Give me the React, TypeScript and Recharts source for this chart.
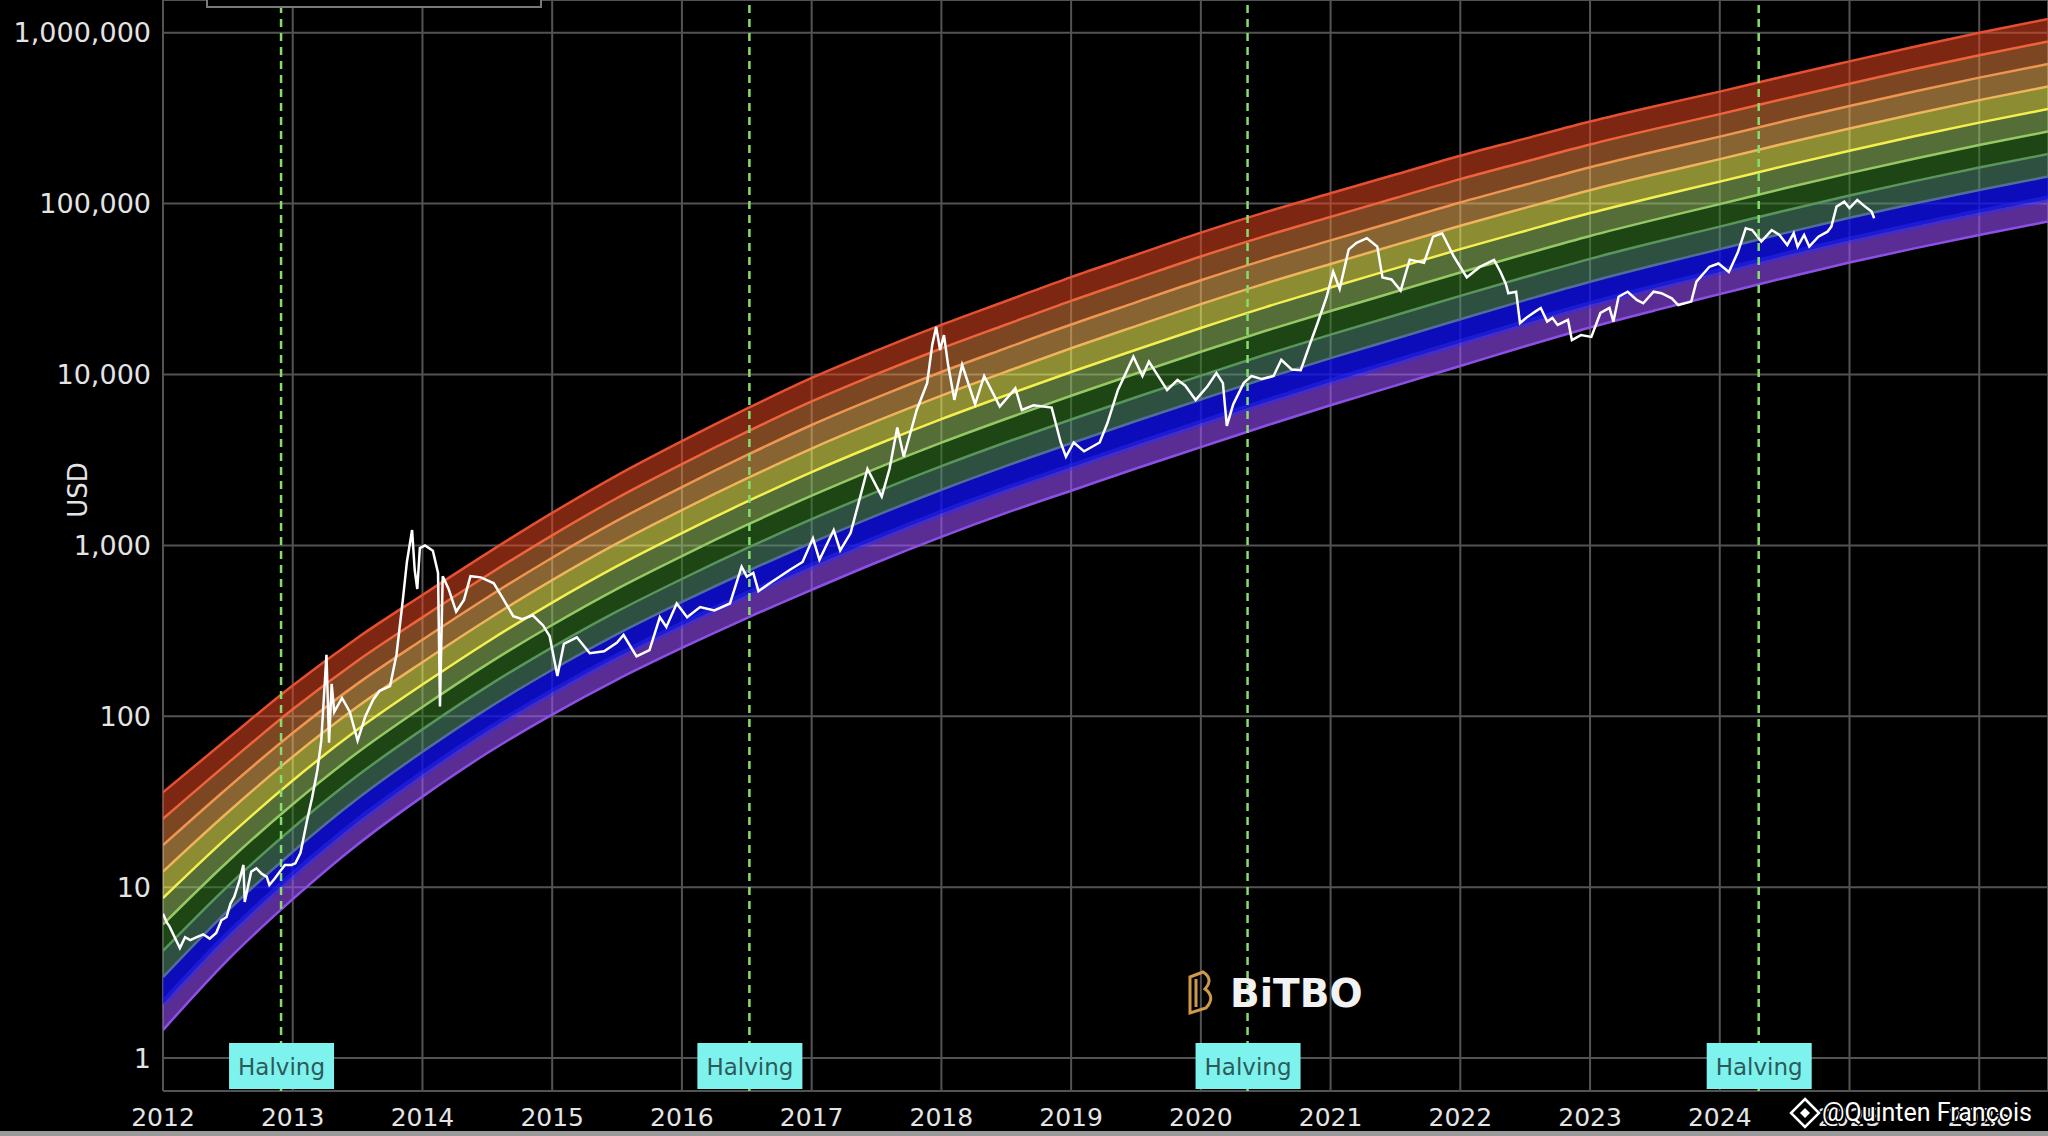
import React from "react";
import {
  ComposedChart,
  Area,
  Line,
  XAxis,
  YAxis,
  CartesianGrid,
  ReferenceLine,
  Label,
} from "recharts";

// axis ticks
const yearTicks = [
  2012, 2013, 2014, 2015, 2016, 2017, 2018, 2019, 2020, 2021, 2022, 2023, 2024, 2025, 2026,
];
const usdTicks = [1, 10, 100, 1000, 10000, 100000, 1000000];

// bitcoin halving dates (decimal years)
const halvingDates = [2012.91, 2016.52, 2020.36, 2024.3];

// rainbow envelope (log10 of USD)
const rainbowYears = [
  2012, 2012.5, 2013, 2013.5, 2014, 2014.5, 2015, 2015.5, 2016, 2016.5, 2017, 2017.5, 2018,
  2018.5, 2019, 2019.5, 2020, 2020.5, 2021, 2021.5, 2022, 2022.5, 2023, 2023.5, 2024, 2024.5,
  2025, 2025.5, 2026, 2026.53,
];
const rainbowBottomLog = [
  0.164, 0.575, 0.93, 1.25, 1.53, 1.785, 2.01, 2.215, 2.4, 2.575, 2.74, 2.9, 3.05, 3.19, 3.32,
  3.45, 3.575, 3.7, 3.82, 3.935, 4.05, 4.165, 4.275, 4.375, 4.47, 4.565, 4.655, 4.738, 4.816,
  4.895,
];
const rainbowTopLog = [
  1.555, 1.87, 2.18, 2.46, 2.71, 2.955, 3.19, 3.41, 3.61, 3.8, 3.98, 4.14, 4.29, 4.43, 4.57,
  4.7, 4.83, 4.95, 5.06, 5.17, 5.28, 5.38, 5.48, 5.57, 5.655, 5.745, 5.832, 5.918, 6.0, 6.08,
];

// BTC price [decimal year, USD]
const btcPrice: [number, number][] = [
  [2012.0, 7.0], [2012.03, 6.2], [2012.05, 5.9], [2012.09, 5.1], [2012.13, 4.4], [2012.17, 5.1],
  [2012.21, 4.9], [2012.26, 5.1], [2012.31, 5.3], [2012.36, 5.0], [2012.41, 5.4], [2012.45, 6.4],
  [2012.49, 6.7], [2012.52, 8.0], [2012.55, 8.8], [2012.59, 11], [2012.62, 13.5], [2012.63, 8.2],
  [2012.66, 10.5], [2012.68, 12.3], [2012.72, 12.9], [2012.76, 12.0], [2012.8, 11.5],
  [2012.82, 10.3], [2012.86, 11.2], [2012.9, 12.3], [2012.94, 13.5], [2012.99, 13.5],
  [2013.02, 13.8], [2013.06, 15.9], [2013.11, 24.5], [2013.15, 33.6], [2013.19, 48.5],
  [2013.22, 72], [2013.26, 229], [2013.28, 70], [2013.3, 155], [2013.32, 106], [2013.38, 128],
  [2013.44, 106], [2013.5, 72], [2013.56, 100], [2013.62, 125], [2013.67, 141], [2013.75, 150],
  [2013.8, 230], [2013.85, 490], [2013.88, 800], [2013.92, 1230], [2013.94, 720], [2013.96, 556],
  [2013.98, 965], [2014.02, 1000], [2014.08, 930], [2014.12, 690], [2014.135, 114],
  [2014.156, 660], [2014.2, 560], [2014.26, 410], [2014.32, 480], [2014.37, 660], [2014.45, 650],
  [2014.55, 600], [2014.62, 490], [2014.7, 385], [2014.77, 370], [2014.85, 390], [2014.93, 340],
  [2014.98, 295], [2015.04, 172], [2015.09, 265], [2015.19, 290], [2015.29, 234], [2015.4, 240],
  [2015.5, 270], [2015.55, 299], [2015.65, 224], [2015.75, 244], [2015.83, 380], [2015.88, 333],
  [2015.96, 457], [2016.04, 380], [2016.14, 436], [2016.25, 416], [2016.37, 457], [2016.46, 750],
  [2016.5, 656], [2016.55, 690], [2016.59, 540], [2016.68, 603], [2016.83, 718], [2016.93, 800],
  [2017.01, 1100], [2017.06, 823], [2017.17, 1230], [2017.22, 935], [2017.3, 1180],
  [2017.36, 1750], [2017.43, 2800], [2017.54, 1930], [2017.6, 2800], [2017.66, 4900],
  [2017.71, 3300], [2017.81, 6200], [2017.89, 8900], [2017.93, 15000], [2017.96, 19000],
  [2017.99, 13900], [2018.02, 17000], [2018.05, 11600], [2018.1, 7100], [2018.16, 11400],
  [2018.26, 6700], [2018.33, 9800], [2018.45, 6500], [2018.57, 8300], [2018.62, 6200],
  [2018.71, 6600], [2018.85, 6400], [2018.92, 4000], [2018.96, 3300], [2019.02, 4000],
  [2019.1, 3550], [2019.22, 4000], [2019.28, 5200], [2019.36, 8100], [2019.48, 12700],
  [2019.55, 9800], [2019.6, 11900], [2019.74, 8100], [2019.82, 9300], [2019.88, 8600],
  [2019.96, 7100], [2020.05, 8500], [2020.12, 10200], [2020.17, 8900], [2020.2, 5000],
  [2020.25, 6700], [2020.33, 8900], [2020.39, 9800], [2020.47, 9400], [2020.56, 9800],
  [2020.62, 12200], [2020.7, 10700], [2020.77, 10600], [2020.84, 15000], [2020.9, 20000],
  [2020.97, 28500], [2021.02, 40000], [2021.07, 31700], [2021.14, 54000], [2021.2, 59000],
  [2021.28, 62700], [2021.36, 56000], [2021.4, 37000], [2021.47, 36000], [2021.54, 31000],
  [2021.61, 47000], [2021.72, 45000], [2021.79, 64000], [2021.86, 67000], [2021.95, 49000],
  [2022.05, 37000], [2022.15, 42600], [2022.26, 46800], [2022.31, 39800], [2022.35, 34000],
  [2022.37, 29900], [2022.43, 30500], [2022.46, 20000], [2022.52, 21800], [2022.58, 23400],
  [2022.62, 24500], [2022.67, 20400], [2022.71, 21400], [2022.75, 19500], [2022.83, 20900],
  [2022.86, 15900], [2022.93, 17000], [2023.01, 16600], [2023.08, 22900], [2023.15, 24500],
  [2023.18, 20400], [2023.22, 28500], [2023.29, 30500], [2023.36, 27300], [2023.41, 26100],
  [2023.49, 30500], [2023.55, 29900], [2023.63, 27900], [2023.68, 25500], [2023.78, 26700],
  [2023.82, 34900], [2023.92, 42700], [2023.99, 44600], [2024.07, 39800], [2024.14, 52000],
  [2024.2, 71600], [2024.25, 70000], [2024.32, 59900], [2024.4, 70000], [2024.46, 65500],
  [2024.52, 57300], [2024.57, 67000], [2024.6, 56000], [2024.65, 65500], [2024.69, 56000],
  [2024.76, 64000], [2024.83, 68500], [2024.86, 73300], [2024.9, 96000], [2024.96, 102500],
  [2025.0, 94000], [2025.06, 105000], [2025.12, 96000], [2025.17, 89800], [2025.19, 82000],
];

// band fills, bottom (fire sale) to top (maximum bubble)
const bandFills = [
  "#9b4eff", "#1010f0", "#529176", "#377f24", "#9bc864", "#ffff5b", "#f5b65b", "#e37f40", "#e34521",
];
const bandOpacity = [0.58, 0.78, 0.55, 0.55, 0.55, 0.55, 0.55, 0.55, 0.55];
// edge lines, bottom to top
const edgeColors = [
  "#8c50e6", "#2c2cff", "#506e96", "#5a965a", "#96c864", "#f5f050", "#f0b45a", "#f09650", "#f0643c",
  "#e65032",
];
const edgeWidths = [2.5, 7, 2.5, 2.5, 2.5, 2.5, 2.5, 2.5, 2.5, 2.5];
const edgeOpacity = [1, 0.45, 1, 1, 1, 1, 1, 1, 1, 1];

const BANDS = 9;

const rainbowData = rainbowYears.map((year, i) => {
  const lo = rainbowBottomLog[i];
  const hi = rainbowTopLog[i];
  const row: Record<string, any> = { year };
  const edges: number[] = [];
  for (let k = 0; k <= BANDS; k++) {
    edges.push(Math.pow(10, lo + ((hi - lo) * k) / BANDS));
    row["e" + k] = edges[k];
  }
  for (let k = 0; k < BANDS; k++) row["b" + k] = [edges[k], edges[k + 1]];
  return row;
});

const priceData = btcPrice.map(([year, usd]) => ({ year, usd }));

const tickFont = { fontFamily: "DejaVu Sans", fill: "#e4e4e4" };

const HalvingTag = (props: any) => {
  const vb = props.viewBox || {};
  const cx = vb.x;
  const top = vb.y + vb.height - 48;
  return (
    <g>
      <rect x={cx - 52} y={top} width={105} height={46} fill="#7ef3ee" />
      <text
        x={cx + 0.5}
        y={top + 32}
        textAnchor="middle"
        fontFamily="DejaVu Sans"
        fontSize={23}
        fill="#2d5a5a"
      >
        Halving
      </text>
    </g>
  );
};

export default function App() {
  return (
    <div
      style={{
        position: "fixed",
        left: 0,
        top: 0,
        width: 2048,
        height: 1136,
        background: "#000",
        overflow: "hidden",
      }}
    >
      <ComposedChart width={2048} height={1136} margin={{ top: 0, right: 0, bottom: 0, left: 0 }}>
        <CartesianGrid stroke="#535353" strokeWidth={2} />
        <XAxis
          type="number"
          dataKey="year"
          domain={[2012, 2026.53]}
          ticks={yearTicks}
          allowDataOverflow
          height={45}
          axisLine={false}
          tickLine={false}
          tickSize={0}
          tickMargin={17.5}
          tick={{ ...tickFont, fontSize: 25 }}
        />
        <YAxis
          scale="log"
          domain={[0.642, 1553000]}
          ticks={usdTicks}
          allowDataOverflow
          width={163}
          axisLine={false}
          tickLine={false}
          tickSize={0}
          tickMargin={12}
          tick={{ ...tickFont, fontSize: 27 }}
          tickFormatter={(v: number) => v.toLocaleString("en-US")}
        />
        {bandFills.map((c, k) => (
          <Area
            key={"band" + k}
            data={rainbowData}
            dataKey={"b" + k}
            type="monotone"
            stroke="none"
            fill={c}
            fillOpacity={bandOpacity[k]}
            isAnimationActive={false}
          />
        ))}
        {edgeColors.map((c, k) => (
          <Line
            key={"edge" + k}
            data={rainbowData}
            dataKey={"e" + k}
            type="monotone"
            stroke={c}
            strokeWidth={edgeWidths[k]}
            strokeOpacity={edgeOpacity[k]}
            dot={false}
            activeDot={false}
            isAnimationActive={false}
          />
        ))}
        <Line
          data={priceData}
          dataKey="usd"
          type="linear"
          stroke="#ffffff"
          strokeWidth={2.5}
          dot={false}
          activeDot={false}
          isAnimationActive={false}
        />
        {halvingDates.map((d) => (
          <ReferenceLine
            key={d}
            x={d}
            stroke="#86de6c"
            strokeWidth={2.5}
            strokeDasharray="8 6"
          >
            <Label content={<HalvingTag />} />
          </ReferenceLine>
        ))}
      </ComposedChart>

      <svg
        width={2048}
        height={1136}
        style={{ position: "absolute", left: 0, top: 0, pointerEvents: "none" }}
      >
        {/* clipped legend frame at the top */}
        <rect x={207} y={-40} width={334} height={47} fill="#000" stroke="#7a7a7a" strokeWidth={2} />
        <text
          transform="translate(87 490) rotate(-90)"
          textAnchor="middle"
          fontFamily="DejaVu Sans"
          fontSize={26}
          fill="#e4e4e4"
        >
          USD
        </text>

        {/* BiTBO watermark */}
        <g fill="none" stroke="#cf9a47" strokeWidth={3}>
          <path d="M1190 977 L1203 972 Q1214 979 1205 989 Q1216 997 1206 1008 L1190 1013 Z" />
          <path d="M1196 979 L1196 1007" />
        </g>
        <text
          x={1230}
          y={1007}
          fontFamily="DejaVu Sans"
          fontWeight="bold"
          fontSize={39}
          fill="#f2f2f2"
        >
          BiTBO
        </text>

        {/* author tag */}
        <g fill="none" stroke="#fff" strokeWidth={2.5}>
          <path d="M1805 1099 L1819 1113 L1805 1127 L1791 1113 Z" />
        </g>
        <path d="M1805 1108 L1810 1113 L1805 1118 L1800 1113 Z" fill="#fff" />
        <text
          x={1822}
          y={1121}
          fontFamily="Roboto"
          fontSize={25}
          fill="#fff"
          stroke="#000"
          strokeWidth={3}
          paintOrder="stroke"
        >
          @Quinten François
        </text>

        <rect x={0} y={1131} width={2048} height={5} fill="#9a9a9a" />
      </svg>
    </div>
  );
}
